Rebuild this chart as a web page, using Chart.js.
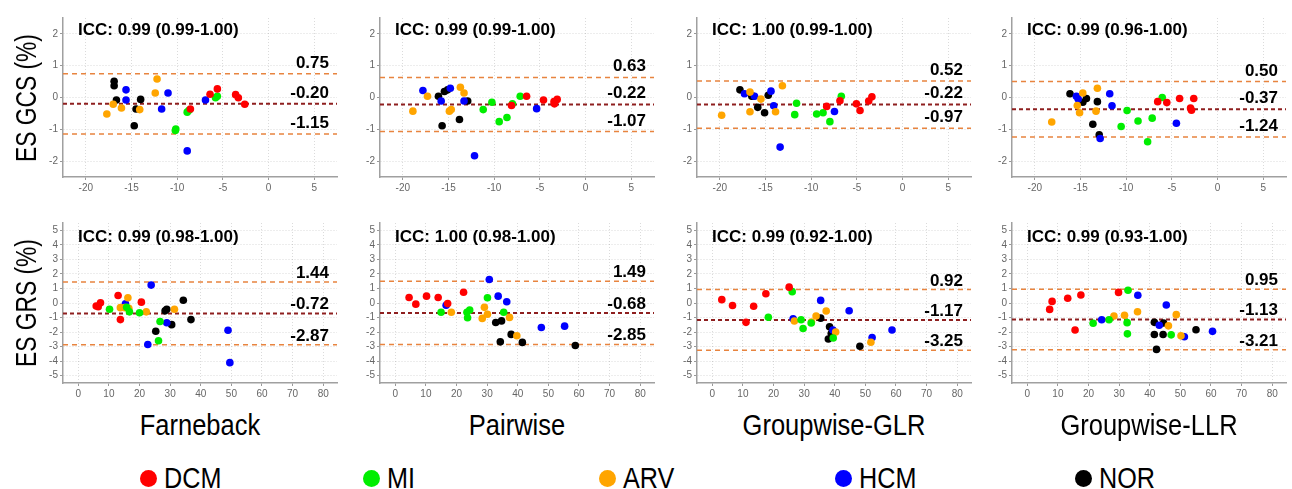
<!DOCTYPE html>
<html>
<head>
<meta charset="utf-8">
<script src="https://cdn.jsdelivr.net/npm/chart.js@4.4.1/dist/chart.umd.min.js"></script>
<style>
  body { margin: 0; background: #fff; }
  #page { position: relative; width: 1292px; height: 489px; overflow: hidden; font-family: "Liberation Sans", Arial, sans-serif; }
  .panel { position: absolute; }
  .lbl { position: absolute; white-space: nowrap; font-weight: bold; font-size: 17px; line-height: 1; color: #000; }
  .big { position: absolute; white-space: nowrap; font-size: 30px; line-height: 1; color: #000; }
  .dot { position: absolute; width: 17px; height: 17px; border-radius: 50%; }
</style>
</head>
<body>
<div id="page"></div>
<script>
const groups = ['DCM', 'MI', 'ARV', 'HCM', 'NOR'];
const groupColors = ['#ff0000', '#00ee00', '#ffa500', '#0000ff', '#000000'];
const methods = ['Farneback', 'Pairwise', 'Groupwise-GLR', 'Groupwise-LLR'];
const rowTitles = ['ES GCS (%)', 'ES GRS (%)'];

const gcsIcc = ['ICC: 0.99 (0.99-1.00)', 'ICC: 0.99 (0.99-1.00)', 'ICC: 1.00 (0.99-1.00)', 'ICC: 0.99 (0.96-1.00)'];
const grsIcc = ['ICC: 0.99 (0.98-1.00)', 'ICC: 1.00 (0.98-1.00)', 'ICC: 0.99 (0.92-1.00)', 'ICC: 0.99 (0.93-1.00)'];

// upper limit, mean bias, lower limit
const gcsLimits = [[0.75, -0.20, -1.15], [0.63, -0.22, -1.07], [0.52, -0.22, -0.97], [0.50, -0.37, -1.24]];
const grsLimits = [[1.44, -0.72, -2.87], [1.49, -0.68, -2.85], [0.92, -1.17, -3.25], [0.95, -1.13, -3.21]];

const gcsRangeX = [-22.5, 7.5];
const gcsRangeY = [-2.5, 2.5];
const grsRangeX = [-5, 84.5];
const grsRangeY = [-5.5, 5.5];
const gcsTicksX = [-20, -15, -10, -5, 0, 5];
const gcsTicksY = [-2, -1, 0, 1, 2];
const grsTicksX = [0, 10, 20, 30, 40, 50, 60, 70, 80];
const grsTicksY = [-5, -4, -3, -2, -1, 0, 1, 2, 3, 4, 5];

// [group, mean, difference]
const gcsFarneback = [
  ['NOR', -16.9, 0.51], ['NOR', -16.9, 0.37], ['NOR', -16.65, -0.08], ['NOR', -14.5, -0.36], ['NOR', -14.0, -0.06], ['NOR', -14.7, -0.89],
  ['ARV', -17.7, -0.52], ['ARV', -17.0, -0.21], ['ARV', -16.1, -0.33], ['ARV', -14.1, -0.38], ['ARV', -12.2, 0.58], ['ARV', -12.4, 0.14],
  ['HCM', -15.6, 0.24], ['HCM', -15.6, -0.08], ['HCM', -11.7, -0.36], ['HCM', -11.0, 0.14], ['HCM', -8.9, -1.68], ['HCM', -6.9, -0.08],
  ['MI', -10.2, -1.04], ['MI', -10.15, -0.99], ['MI', -8.9, -0.46], ['MI', -8.7, -0.40], ['MI', -5.8, -0.01], ['MI', -5.6, 0.04],
  ['DCM', -8.55, -0.36], ['DCM', -6.4, 0.10], ['DCM', -5.6, 0.27], ['DCM', -3.6, 0.09], ['DCM', -3.3, -0.01], ['DCM', -2.6, -0.21]
];
const gcsPairwise = [
  ['HCM', -17.8, 0.22], ['HCM', -15.8, -0.11], ['HCM', -14.8, 0.29], ['HCM', -13.3, -0.11], ['HCM', -12.15, -1.83], ['HCM', -5.35, -0.35],
  ['ARV', -17.3, 0.04], ['ARV', -18.9, -0.43], ['ARV', -14.9, -0.43], ['ARV', -14.7, -0.38], ['ARV', -13.7, 0.32], ['ARV', -13.3, 0.14],
  ['NOR', -16.1, 0.04], ['NOR', -15.45, 0.19], ['NOR', -15.1, 0.24], ['NOR', -15.7, -0.89], ['NOR', -13.8, -0.69], ['NOR', -12.9, -0.11],
  ['MI', -11.2, -0.38], ['MI', -10.25, -0.15], ['MI', -9.45, -0.76], ['MI', -8.6, -0.63], ['MI', -8.0, -0.20], ['MI', -7.15, 0.04],
  ['DCM', -8.1, -0.25], ['DCM', -6.45, 0.04], ['DCM', -4.6, -0.08], ['DCM', -3.45, -0.13], ['DCM', -3.4, -0.20], ['DCM', -3.1, -0.06]
];
const gcsGlr = [
  ['ARV', -19.8, -0.56], ['ARV', -16.7, 0.17], ['ARV', -16.7, -0.45], ['ARV', -15.5, -0.05], ['ARV', -13.9, -0.45], ['ARV', -13.15, 0.37],
  ['NOR', -17.8, 0.24], ['NOR', -16.5, 0.04], ['NOR', -15.85, -0.31], ['NOR', -15.1, -0.48], ['NOR', -14.7, 0.07], ['NOR', -16.35, 0.04],
  ['HCM', -17.3, 0.12], ['HCM', -16.2, 0.04], ['HCM', -14.4, 0.20], ['HCM', -14.1, -0.26], ['HCM', -13.4, -1.56], ['HCM', -7.45, -0.44],
  ['MI', -11.8, -0.54], ['MI', -11.6, -0.18], ['MI', -9.4, -0.52], ['MI', -8.7, -0.48], ['MI', -7.95, -0.76], ['MI', -6.7, 0.04],
  ['DCM', -8.3, -0.28], ['DCM', -6.85, -0.10], ['DCM', -5.05, -0.20], ['DCM', -4.65, -0.41], ['DCM', -3.7, -0.11], ['DCM', -3.35, 0.02]
];
const gcsLlr = [
  ['ARV', -18.15, -0.77], ['ARV', -14.75, 0.14], ['ARV', -15.35, -0.25], ['ARV', -15.1, -0.48], ['ARV', -13.15, 0.29], ['ARV', -13.3, -0.43],
  ['NOR', -16.15, 0.12], ['NOR', -14.35, -0.03], ['NOR', -14.75, -0.15], ['NOR', -13.15, -0.13], ['NOR', -13.65, -0.84], ['NOR', -12.95, -1.17],
  ['HCM', -15.45, 0.04], ['HCM', -15.25, -0.05], ['HCM', -12.85, -1.29], ['HCM', -11.8, 0.12], ['HCM', -11.55, -0.26], ['HCM', -4.5, -0.81],
  ['MI', -9.9, -0.41], ['MI', -10.55, -0.91], ['MI', -8.7, -0.74], ['MI', -7.15, -0.65], ['MI', -7.65, -1.39], ['MI', -6.05, 0.0],
  ['DCM', -6.55, -0.13], ['DCM', -5.55, -0.16], ['DCM', -4.15, -0.03], ['DCM', -2.95, -0.33], ['DCM', -2.85, -0.40], ['DCM', -2.6, -0.03]
];
const grsFarneback = [
  ['DCM', 5.85, -0.21], ['DCM', 6.5, -0.25], ['DCM', 7.25, 0.01], ['DCM', 13.0, 0.52], ['DCM', 13.75, -1.14], ['DCM', 20.6, 0.06],
  ['MI', 10.2, -0.43], ['MI', 15.8, -0.30], ['MI', 16.7, -0.61], ['MI', 20.0, -0.67], ['MI', 26.2, -2.6], ['MI', 26.7, -1.27],
  ['ARV', 13.75, -0.32], ['ARV', 15.2, -0.32], ['ARV', 16.5, -0.36], ['ARV', 16.2, 0.36], ['ARV', 22.2, -0.61], ['ARV', 31.4, -0.43],
  ['HCM', 15.4, -0.06], ['HCM', 23.8, 1.23], ['HCM', 22.7, -2.85], ['HCM', 28.9, -1.36], ['HCM', 48.9, -1.87], ['HCM', 49.5, -4.1],
  ['NOR', 25.3, -1.94], ['NOR', 28.35, -0.54], ['NOR', 28.9, -0.43], ['NOR', 30.5, -1.49], ['NOR', 34.3, 0.19], ['NOR', 36.8, -1.14]
];
const grsPairwise = [
  ['DCM', 4.5, 0.38], ['DCM', 6.7, -0.08], ['DCM', 10.2, 0.47], ['DCM', 14.0, 0.38], ['DCM', 17.1, -0.04], ['DCM', 22.3, 0.74],
  ['HCM', 16.6, -0.15], ['HCM', 30.7, 1.62], ['HCM', 33.6, 0.47], ['HCM', 36.4, 0.09], ['HCM', 47.7, -1.68], ['HCM', 55.3, -1.59],
  ['MI', 14.95, -0.64], ['MI', 23.4, -0.64], ['MI', 24.3, -0.48], ['MI', 23.6, -1.01], ['MI', 30.1, 0.36], ['MI', 35.4, -0.64],
  ['ARV', 18.3, -0.64], ['ARV', 28.4, -1.06], ['ARV', 29.1, -0.30], ['ARV', 30.1, -0.77], ['ARV', 37.3, -0.99], ['ARV', 39.7, -2.25],
  ['NOR', 32.8, -1.34], ['NOR', 34.7, -1.23], ['NOR', 34.3, -2.67], ['NOR', 37.85, -2.16], ['NOR', 41.5, -2.71], ['NOR', 58.8, -2.92]
];
const grsGlr = [
  ['DCM', 3.1, 0.23], ['DCM', 6.6, -0.17], ['DCM', 11.0, -1.33], ['DCM', 13.5, -0.22], ['DCM', 17.5, 0.64], ['DCM', 25.1, 1.09],
  ['MI', 18.3, -0.98], ['MI', 26.1, 0.78], ['MI', 29.0, -1.15], ['MI', 29.65, -1.75], ['MI', 32.3, -1.37], ['MI', 39.5, -2.41],
  ['HCM', 26.4, -1.09], ['HCM', 35.4, 0.18], ['HCM', 39.4, -1.86], ['HCM', 44.7, -0.53], ['HCM', 52.2, -2.37], ['HCM', 58.7, -1.86],
  ['ARV', 26.8, -1.24], ['ARV', 32.4, -1.31], ['ARV', 33.9, -0.89], ['ARV', 37.2, -0.55], ['ARV', 40.3, -1.99], ['ARV', 51.8, -2.70],
  ['NOR', 35.4, -1.04], ['NOR', 38.3, -1.64], ['NOR', 38.85, -2.10], ['NOR', 37.9, -2.48], ['NOR', 39.2, -2.2], ['NOR', 48.2, -2.97]
];
const grsLlr = [
  ['DCM', 7.3, -0.44], ['DCM', 8.1, 0.11], ['DCM', 13.2, 0.33], ['DCM', 15.6, -1.86], ['DCM', 17.5, 0.55], ['DCM', 29.8, 0.73],
  ['MI', 21.5, -1.39], ['MI', 26.7, -1.15], ['MI', 32.9, 0.88], ['MI', 32.7, -2.12], ['MI', 32.6, -1.35], ['MI', 47.0, -2.19],
  ['HCM', 24.3, -1.15], ['HCM', 36.1, 0.53], ['HCM', 43.1, -1.53], ['HCM', 45.4, -0.14], ['HCM', 51.3, -2.32], ['HCM', 60.5, -1.95],
  ['ARV', 28.3, -0.89], ['ARV', 31.75, -0.85], ['ARV', 36.0, -0.60], ['ARV', 46.1, -1.57], ['ARV', 48.65, -0.80], ['ARV', 50.2, -2.26],
  ['NOR', 41.5, -1.33], ['NOR', 41.5, -2.17], ['NOR', 42.2, -3.19], ['NOR', 44.5, -1.38], ['NOR', 44.35, -2.17], ['NOR', 55.1, -1.84]
];

const gcsPanels = [gcsFarneback, gcsPairwise, gcsGlr, gcsLlr];
const grsPanels = [grsFarneback, grsPairwise, grsGlr, grsLlr];

// layout
const panelLeft = [63, 380, 697, 1012];
const plotWidth = 276;
const rowTop = [12, 217];
const rowHeight = [165, 166];
const yAxisWidth = 30;
const xAxisHeight = 20;

const page = document.getElementById('page');

function addText(cls, text, x, y, align, extra) {
    const el = document.createElement('div');
    el.className = cls;
    el.textContent = text;
    el.style.left = x + 'px';
    el.style.top = y + 'px';
    let tx = align === 'right' ? '-100%' : (align === 'center' ? '-50%' : '0');
    el.style.transform = 'translate(' + tx + ',-50%)' + (extra || '');
    page.appendChild(el);
    return el;
}

function makePanel(row, col) {
    const points = row === 0 ? gcsPanels[col] : grsPanels[col];
    const limits = row === 0 ? gcsLimits[col] : grsLimits[col];
    const icc = row === 0 ? gcsIcc[col] : grsIcc[col];
    const rangeX = row === 0 ? gcsRangeX : grsRangeX;
    const rangeY = row === 0 ? gcsRangeY : grsRangeY;
    const ticksX = row === 0 ? gcsTicksX : grsTicksX;
    const ticksY = row === 0 ? gcsTicksY : grsTicksY;

    const left = panelLeft[col] - yAxisWidth;
    const top = rowTop[row] - 2;
    const wrap = document.createElement('div');
    wrap.className = 'panel';
    wrap.style.left = left + 'px';
    wrap.style.top = top + 'px';
    const canvas = document.createElement('canvas');
    canvas.width = yAxisWidth + plotWidth + 2;
    canvas.height = rowHeight[row] + 2 + xAxisHeight;
    wrap.appendChild(canvas);
    page.appendChild(wrap);

    const datasets = [];
    groups.forEach(function(g, i) {
        datasets.push({
            label: g,
            data: points.filter(p => p[0] === g).map(p => ({ x: p[1], y: p[2] })),
            backgroundColor: groupColors[i],
            borderColor: groupColors[i],
            pointRadius: 3.8,
            borderWidth: 0,
            order: 0
        });
    });
    limits.forEach(function(v, i) {
        const isMean = i === 1;
        datasets.push({
            label: 'limit' + i,
            data: [{ x: rangeX[0], y: v }, { x: rangeX[1], y: v }],
            showLine: true,
            pointRadius: 0,
            borderColor: isMean ? '#8e1f1f' : '#e8843f',
            borderWidth: isMean ? 2 : 1.5,
            borderDash: isMean ? [4, 3] : [5, 4],
            order: 1
        });
    });

    const axisCommon = {
        type: 'linear',
        grid: { color: 'rgba(0,0,0,0.14)', lineWidth: 1, tickLength: 3, tickColor: '#999' },
        border: { color: '#a0a0a0', width: 1.5, dash: [1, 2] },
        ticks: { color: '#666', font: { size: 10, family: '"Liberation Sans", Arial, sans-serif' }, padding: 2, autoSkip: false, maxRotation: 0 }
    };

    const chart = new Chart(canvas.getContext('2d'), {
        type: 'scatter',
        data: { datasets: datasets },
        options: {
            responsive: false,
            animation: false,
            events: [],
            layout: { padding: { top: 2, right: 2, left: 0, bottom: 0 } },
            plugins: { legend: { display: false }, tooltip: { enabled: false } },
            scales: {
                x: Object.assign({}, axisCommon, {
                    min: rangeX[0], max: rangeX[1],
                    afterBuildTicks: s => { s.ticks = ticksX.map(v => ({ value: v })); },
                    afterFit: s => { s.height = xAxisHeight; }
                }),
                y: Object.assign({}, axisCommon, {
                    min: rangeY[0], max: rangeY[1],
                    afterBuildTicks: s => { s.ticks = ticksY.map(v => ({ value: v })); },
                    afterFit: s => { s.width = yAxisWidth; }
                })
            }
        }
    });

    const area = chart.chartArea;
    const ys = chart.scales.y;
    addText('lbl', icc, left + area.left + 15, top + area.top + (row === 0 ? 11 : 13), 'left');
    const lift = row === 0 ? 12 : 10;
    limits.forEach(function(v) {
        addText('lbl', v.toFixed(2), left + area.right - 8, top + ys.getPixelForValue(v) - lift, 'right');
    });

    if (row === 1) {
        addText('big', methods[col], left + (area.left + area.right) / 2, 425, 'center', ' scaleX(0.85)');
    }
    if (col === 0) {
        const t = addText('big', rowTitles[row], 26, top + (area.top + area.bottom) / 2, 'center', '');
        t.style.transform = 'translate(-50%,-50%) rotate(-90deg) scaleX(0.76)';
    }
}

for (let r = 0; r < 2; r++) {
    for (let c = 0; c < 4; c++) {
        makePanel(r, c);
    }
}

// legend
const legendDotX = [148, 371, 607, 843, 1083];
groups.forEach(function(g, i) {
    const dot = document.createElement('div');
    dot.className = 'dot';
    dot.style.background = groupColors[i];
    dot.style.left = (legendDotX[i] - 8.5) + 'px';
    dot.style.top = (478 - 8.5) + 'px';
    page.appendChild(dot);
    const t = addText('big', g, legendDotX[i] + 16, 478, 'left', ' scaleX(0.84)');
    t.style.transformOrigin = 'left center';
});
</script>
</body>
</html>
